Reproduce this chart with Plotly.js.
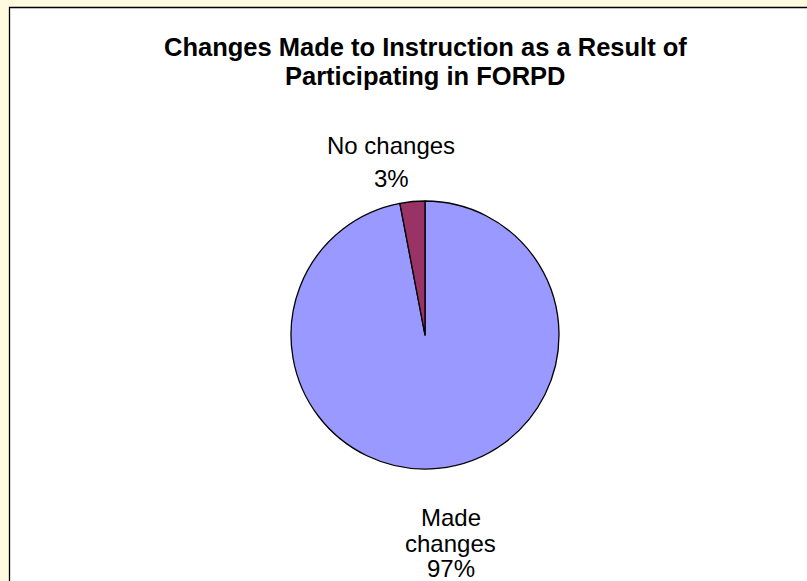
<!DOCTYPE html>
<html>
<head>
<meta charset="utf-8">
<script src="https://cdn.plot.ly/plotly-3.0.1.min.js"></script>
<style>html,body{margin:0;padding:0;background:#FFF9DD;}#chart{width:807px;height:581px;}</style>
</head>
<body>
<div id="chart"></div>
<script>
// ---- data ----
const titleLines = ['Changes Made to Instruction as a Result of', 'Participating in FORPD'];
const labels = ['Made changes', 'No changes'];
const values = [97, 3];
const colors = ['#9999FF', '#993366'];

// ---- layout helpers ----
const W = 807, H = 581;
const px = x => x / W;
const py = y => (H - y) / H;

const total = values.reduce((a, b) => a + b, 0);
const pct = values.map(v => Math.round(v / total * 100) + '%');

// label lines: wrapped as in the reference
const labelLines = [
  labels[0].split(' ').concat([pct[0]]),
  [labels[1], pct[1]]
];
const labelPos = [
  {x: 451, ys: [517, 543, 568]},
  {x: 391, ys: [146, 178]}
];

const annotations = [];
titleLines.forEach((t, i) => {
  annotations.push({
    text: '<b>' + t + '</b>', xref: 'paper', yref: 'paper',
    x: px(425), y: py([47, 76][i]), xanchor: 'center', yanchor: 'middle',
    showarrow: false, font: {family: 'Liberation Sans, Arial, sans-serif', size: 25.5, color: '#000'}
  });
});
labelLines.forEach((lines, k) => {
  lines.forEach((t, i) => {
    annotations.push({
      text: t, xref: 'paper', yref: 'paper',
      x: px(labelPos[k].x), y: py(labelPos[k].ys[i]), xanchor: 'center', yanchor: 'middle',
      showarrow: false, font: {family: 'Liberation Sans, Arial, sans-serif', size: 24, color: '#000'}
    });
  });
});

const cx = 425, cy = 335, r = 134;
const trace = {
  type: 'pie',
  labels: labels,
  values: values,
  sort: false,
  direction: 'clockwise',
  rotation: 0,
  marker: {colors: colors, line: {color: '#000', width: 1.3}},
  textinfo: 'none',
  hoverinfo: 'label+percent',
  showlegend: false,
  domain: {x: [px(cx - r), px(cx + r)], y: [py(cy + r), py(cy - r)]}
};

const layout = {
  width: W, height: H,
  margin: {l: 0, r: 0, t: 0, b: 0},
  paper_bgcolor: '#FFF9DD',
  plot_bgcolor: 'rgba(0,0,0,0)',
  showlegend: false,
  shapes: [{
    type: 'rect', xref: 'paper', yref: 'paper', layer: 'below',
    x0: px(9.5), x1: 1.2, y0: -0.2, y1: py(7.5),
    fillcolor: '#FFFFFF', line: {color: '#000', width: 1.3}
  }],
  annotations: annotations
};

Plotly.newPlot('chart', [trace], layout, {displayModeBar: false, staticPlot: true});
</script>
</body>
</html>
